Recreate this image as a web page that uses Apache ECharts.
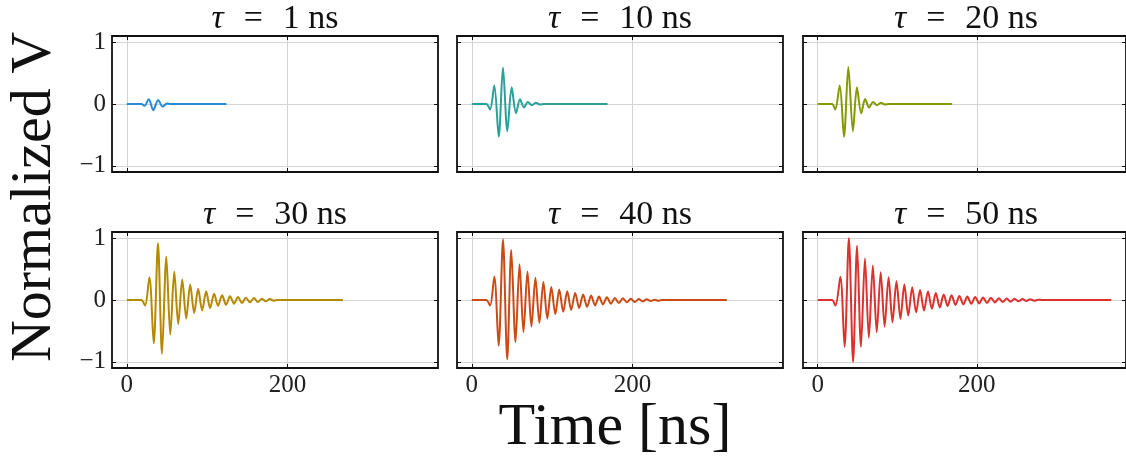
<!DOCTYPE html>
<html>
<head>
<meta charset="utf-8">
<script src="https://cdn.jsdelivr.net/npm/echarts@6/dist/echarts.min.js"></script>
<style>
  html, body { margin: 0; padding: 0; background: #fff; }
  #chart { width: 1126px; height: 461px; }
</style>
</head>
<body>
<div id="chart"></div>
<script>
// decay constants, one panel each
const taus = [1, 10, 20, 30, 40, 50]
const colors = ['#268bd2', '#2aa198', '#859900', '#b58900', '#cb4b16', '#dc322f']
const xTickValues = [0, 200]
const yTickValues = [-1, 0, 1]

// waveforms (time in ns, normalized voltage)
const t1 = [0, 18, 22, 27.3, 33, 39, 44.6, 50, 55, 124]
const v1 = [0, 0, -0.03, 0.077, -0.1, 0.066, -0.044, 0.01, 0, 0]

const t10 = [0, 18, 22.7, 28, 33.5, 38.8, 44.2, 49.6, 55, 60, 64.9, 69.8, 74.8, 79.8, 84.7, 90, 169]
const v10 = [0, 0, -0.09, 0.30, -0.53, 0.59, -0.44, 0.27, -0.15, 0.077, -0.055, 0.033, -0.02, 0.02, -0.01, 0, 0]

const t20 = [0, 18, 22, 27.7, 33.1, 38.5, 44.3, 49.3, 54.7, 59.6, 64.6, 69.6, 74.5, 79.5, 84.5, 90, 169]
const v20 = [0, 0, -0.09, 0.30, -0.53, 0.60, -0.44, 0.27, -0.15, 0.08, -0.055, 0.033, -0.02, 0.02, -0.01, 0, 0]

const t30 = [0, 18, 22.7, 28.1, 33.5, 38.8, 43.8, 49.2, 54.1, 59.1, 64, 69, 74, 78.9, 83.9, 88.8, 93.8,
  98.8, 103.7, 108.7, 113.6, 118.6, 123.6, 128.5, 133.5, 138.4, 143.4, 148.3, 153.3, 158.3, 163.2,
  168.2, 173.1, 178.1, 183, 188, 269]
const v30 = [0, 0, -0.09, 0.37, -0.70, 0.92, -0.87, 0.70, -0.56, 0.46, -0.39, 0.33, -0.30, 0.25, -0.21,
  0.18, -0.17, 0.14, -0.13, 0.10, -0.093, 0.077, -0.077, 0.06, -0.06, 0.05, -0.05, 0.038, -0.038,
  0.033, -0.033, 0.022, -0.022, 0.016, -0.011, 0, 0]

const t40 = [0, 18, 22.7, 28, 33.4, 38.8, 44.1, 49.1, 54.4, 59.4, 64.3, 69.3, 74.2, 79.2, 84.1, 89.1,
  94, 99, 103.9, 108.9, 113.8, 118.8, 123.7, 128.7, 133.6, 138.6, 143.5, 148.5, 153.4, 158.4, 163.3,
  168.2, 173.2, 178.1, 183.1, 188, 193, 198, 202.9, 207.8, 212.8, 217.7, 222.7, 227.6, 232.6, 238, 317.5]
const v40 = [0, 0, -0.09, 0.38, -0.74, 0.98, -0.96, 0.81, -0.68, 0.58, -0.52, 0.46, -0.43, 0.36, -0.37,
  0.29, -0.30, 0.21, -0.23, 0.17, -0.19, 0.14, -0.16, 0.115, -0.13, 0.088, -0.11, 0.071, -0.088,
  0.055, -0.071, 0.044, -0.06, 0.033, -0.05, 0.027, -0.038, 0.022, -0.033, 0.016, -0.022, 0.011,
  -0.016, 0.005, -0.011, 0, 0]

const t50 = [0, 18, 22.3, 28.5, 33.8, 39.2, 44.5, 49.5, 54.4, 59.4, 64.3, 69.3, 74.2, 79.2, 84.1, 89.1,
  94, 99, 104, 108.9, 113.8, 118.8, 123.7, 128.7, 133.6, 138.6, 143.5, 148.5, 153.4, 158.4, 163.3,
  168.2, 173.2, 178.1, 183.1, 188, 193, 198, 202.9, 207.8, 212.8, 217.7, 222.7, 227.6, 232.6, 237.5,
  242.5, 247.4, 252.4, 257.3, 262.3, 267.2, 272.2, 277.1, 282, 369]
const v50 = [0, 0, -0.09, 0.376, -0.757, 1.0, -1.0, 0.877, -0.757, 0.67, -0.61, 0.56, -0.52, 0.45,
  -0.43, 0.37, -0.36, 0.305, -0.305, 0.25, -0.25, 0.207, -0.2, 0.16, -0.17, 0.136, -0.14, 0.114,
  -0.12, 0.087, -0.098, 0.076, -0.08, 0.065, -0.07, 0.055, -0.06, 0.05, -0.055, 0.04, -0.05, 0.035,
  -0.04, 0.03, -0.033, 0.025, -0.027, 0.02, -0.022, 0.016, -0.016, 0.011, -0.011, 0.005, 0, 0]

const times = [t1, t10, t20, t30, t40, t50]
const volts = [v1, v10, v20, v30, v40, v50]

const font = 'Liberation Serif'
const colLefts = [112, 457, 803]
const rowTops = [36, 232]
const panelW = 326
const panelH = 136
const xMin = -18.45
const xMax = 387.45

const isTick = (v, list) => list.some(t => Math.abs(v - t) < 1e-6)

const grids = []
const xAxes = []
const yAxes = []
const topAxes = []
const rightAxes = []
const series = []
const graphics = []

const noLine = { show: false, onZero: false }
const tickStyle = vals => ({
  show: true, inside: true, length: 4, customValues: vals,
  lineStyle: { color: '#111', width: 1 }
})

taus.forEach((tau, i) => {
  const row = Math.floor(i / 3)
  const col = i % 3
  grids.push({
    left: colLefts[col], top: rowTops[row], width: panelW, height: panelH,
    show: true, borderColor: '#111', borderWidth: 1.8, backgroundColor: 'transparent'
  })
  xAxes.push({
    type: 'value', gridIndex: i, position: 'bottom', min: xMin, max: xMax, splitNumber: 2,
    axisLine: noLine,
    axisTick: tickStyle(xTickValues),
    axisLabel: {
      show: row === 1, color: '#222', fontFamily: font, fontSize: 25, margin: 5,
      customValues: xTickValues,
      formatter: v => isTick(v, xTickValues) ? String(Math.round(v)) : ''
    },
    splitLine: { show: true, lineStyle: { color: '#d4d4d4', width: 1 } }
  })
  topAxes.push({
    type: 'value', gridIndex: i, position: 'top', min: xMin, max: xMax, splitNumber: 2,
    axisLine: noLine, axisTick: tickStyle(xTickValues), axisLabel: { show: false }, splitLine: { show: false }
  })
  yAxes.push({
    type: 'value', gridIndex: i, position: 'left', min: -1.1, max: 1.1, splitNumber: 2,
    axisLine: noLine,
    axisTick: tickStyle(yTickValues),
    axisLabel: {
      show: col === 0, color: '#222', fontFamily: font, fontSize: 25, margin: 6,
      customValues: yTickValues,
      formatter: v => {
        if (!isTick(v, yTickValues)) return ''
        const r = Math.round(v)
        return r < 0 ? '\u2212' + Math.abs(r) : String(r)
      }
    },
    splitLine: { show: true, lineStyle: { color: '#d4d4d4', width: 1 } }
  })
  rightAxes.push({
    type: 'value', gridIndex: i, position: 'right', min: -1.1, max: 1.1, splitNumber: 2,
    axisLine: noLine, axisTick: tickStyle(yTickValues), axisLabel: { show: false }, splitLine: { show: false }
  })
  series.push({
    type: 'line', xAxisIndex: i, yAxisIndex: i,
    data: times[i].map((t, k) => [t, volts[i][k]]),
    showSymbol: false, smooth: 0.3,
    lineStyle: { color: colors[i], width: 2 },
    itemStyle: { color: colors[i] }
  })
  graphics.push({
    type: 'text',
    x: colLefts[col] + panelW / 2,
    y: rowTops[row] - 17,
    style: {
      text: '{i|\u03c4}\u2002\u200a=\u2002\u200a' + tau + ' ns',
      fontFamily: font, fontSize: 34, fill: '#111',
      align: 'center', verticalAlign: 'middle',
      rich: { i: { fontFamily: font, fontSize: 34, fontStyle: 'italic', fill: '#111' } }
    }
  })
})

graphics.push({
  type: 'text', x: 35, y: 197, rotation: Math.PI / 2,
  style: { text: 'Normalized V', fontFamily: font, fontSize: 58, fill: '#111', align: 'center', verticalAlign: 'middle' }
})
graphics.push({
  type: 'text', x: 615, y: 428,
  style: { text: 'Time [ns]', fontFamily: font, fontSize: 60, fill: '#111', align: 'center', verticalAlign: 'middle' }
})

const chart = echarts.init(document.getElementById('chart'), null, { renderer: 'canvas' })
chart.setOption({
  animation: false,
  backgroundColor: '#fff',
  grid: grids,
  xAxis: xAxes.concat(topAxes),
  yAxis: yAxes.concat(rightAxes),
  series: series,
  graphic: graphics
})
</script>
</body>
</html>
